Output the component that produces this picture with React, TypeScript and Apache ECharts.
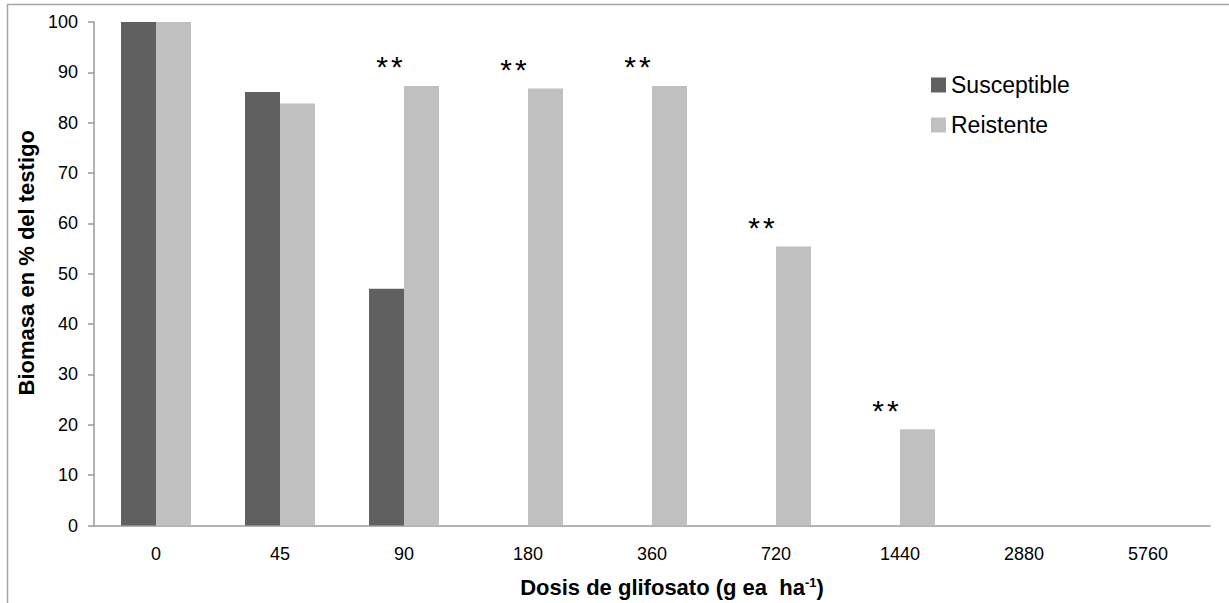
import React, { useEffect, useRef } from "react";
import * as echarts from "echarts";

const categories = ["0", "45", "90", "180", "360", "720", "1440", "2880", "5760"];
const susceptible = [100, 86.1, 47, 0, 0, 0, 0, 0, 0];
const reistente = [100, 83.8, 87.3, 86.8, 87.3, 55.4, 19.1, 0, 0];
const significant = [false, false, true, true, true, true, true, false, false];
const yTicks = [0, 10, 20, 30, 40, 50, 60, 70, 80, 90, 100];

export default function App() {
  const ref = useRef<HTMLDivElement>(null);
  useEffect(() => {
    if (!ref.current) return;
    const chart = echarts.init(ref.current, null, { renderer: "svg" });
    const font = "'Liberation Sans', Arial, sans-serif";
    chart.setOption({
      animation: false,
      backgroundColor: "#ffffff",
      textStyle: { fontFamily: font },
      graphic: [
        {
          type: "rect",
          shape: { x: 7.5, y: 4.5, width: 1300, height: 700 },
          style: { fill: "none", stroke: "#a6a6a6", lineWidth: 1.5 },
          silent: true,
        },
      ],
      legend: {
        orient: "vertical",
        left: 931,
        top: 73,
        padding: 0,
        itemWidth: 15,
        itemHeight: 15,
        itemGap: 16,
        icon: "rect",
        textStyle: { fontSize: 23, lineHeight: 24, color: "#000", fontFamily: font },
        data: ["Susceptible", "Reistente"],
      },
      grid: { left: 94, right: 19, top: 22, bottom: 76, containLabel: false },
      xAxis: {
        type: "category",
        data: categories,
        axisLine: { lineStyle: { color: "#9a9a9a", width: 1.5 } },
        axisTick: { show: false },
        axisLabel: { fontSize: 18, color: "#000", margin: 19, fontFamily: font },
        name: "{t|Dosis de glifosato (g ea  ha}{s|-1}{t|)}",
        nameLocation: "middle",
        nameGap: 50,
        nameTextStyle: {
          padding: [0, 0, 0, 40],
          rich: {
            t: { fontSize: 22, fontWeight: "bold", color: "#000", fontFamily: font },
            s: { fontSize: 13, fontWeight: "bold", color: "#000", fontFamily: font, verticalAlign: "top", padding: [0, 0, 10, 0] },
          },
        },
      },
      yAxis: {
        type: "value",
        min: yTicks[0],
        max: yTicks[yTicks.length - 1],
        interval: 10,
        axisLine: { show: true, lineStyle: { color: "#9a9a9a", width: 1.5 } },
        axisTick: { show: true, length: 6, lineStyle: { color: "#9a9a9a", width: 1.5 } },
        splitLine: { show: false },
        axisLabel: { fontSize: 18, color: "#000", margin: 16, fontFamily: font },
        name: "Biomasa en % del testigo",
        nameLocation: "middle",
        nameGap: 55,
        nameTextStyle: {
          fontSize: 22,
          fontWeight: "bold",
          color: "#000",
          fontFamily: font,
          padding: [0, 0, 0, 22],
        },
      },
      series: [
        {
          name: "Susceptible",
          type: "bar",
          data: susceptible,
          barWidth: 35,
          barGap: "0%",
          itemStyle: { color: "#606060", borderWidth: 0 },
        },
        {
          name: "Reistente",
          type: "bar",
          data: reistente.map((v, i) => ({
            value: v,
            label: significant[i]
              ? {
                  show: true,
                  position: "top",
                  formatter: "{a|*}{a|*}",
                  offset: [-32, 1],
                  rich: {
                    a: { fontSize: 30, color: "#000", fontFamily: font, padding: [0, 1.5] },
                  },
                }
              : { show: false },
          })),
          barWidth: 35,
          itemStyle: { color: "#c0c0c0", borderWidth: 0 },
        },
      ],
    });
    return () => chart.dispose();
  }, []);
  return (
    <div
      ref={ref}
      style={{ position: "absolute", left: 0, top: 0, width: 1229, height: 603 }}
    />
  );
}
